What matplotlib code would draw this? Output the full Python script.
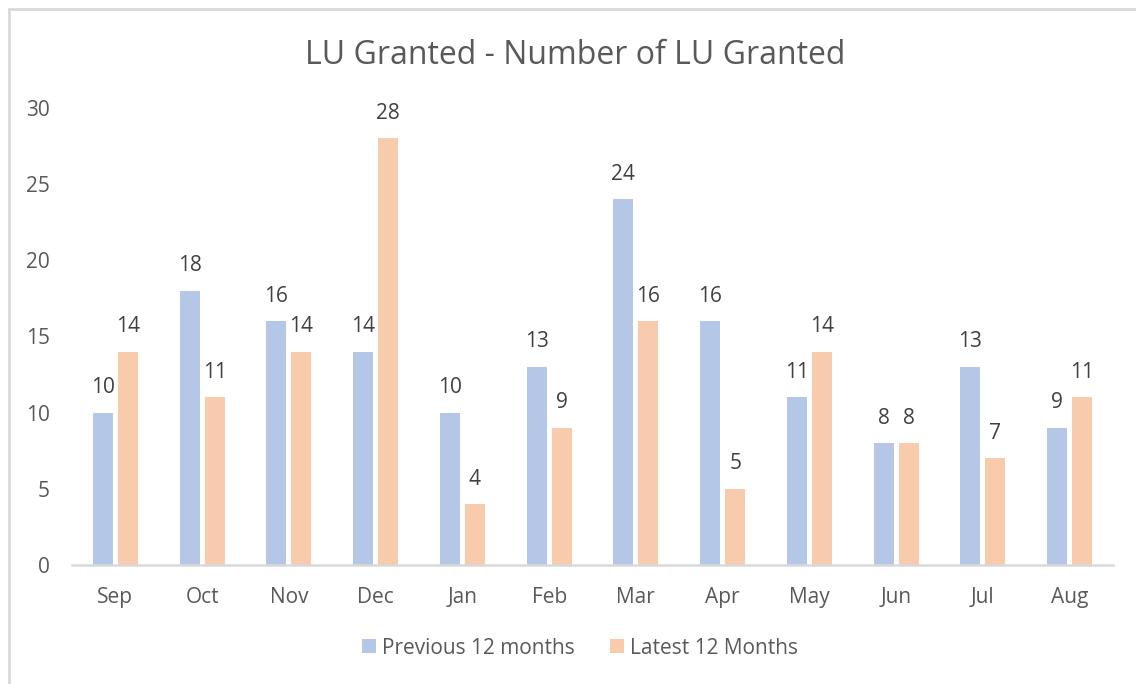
import numpy as np
import matplotlib.pyplot as plt
from matplotlib.lines import Line2D
from matplotlib.patches import Patch

months = ['Sep', 'Oct', 'Nov', 'Dec', 'Jan', 'Feb', 'Mar', 'Apr', 'May', 'Jun', 'Jul', 'Aug']
previous = [10, 18, 16, 14, 10, 13, 24, 16, 11, 8, 13, 9]
latest = [14, 11, 14, 28, 4, 9, 16, 5, 14, 8, 7, 11]
series_names = ['Previous 12 months', 'Latest 12 Months']
colors = ['#B4C7E7', '#F8CBAD']

plt.rcParams['font.family'] = ['Open Sans', 'DejaVu Sans']

fig = plt.figure(figsize=(11.36, 6.84), dpi=100)
ax = fig.add_axes([72 / 1136, 1 - 565 / 684, (1113 - 72) / 1136, (565 - 108) / 684])

x = np.arange(len(months))
w = 0.23
gap = 0.06
b1 = ax.bar(x - (w + gap) / 2, previous, w, color=colors[0], zorder=2)
b2 = ax.bar(x + (w + gap) / 2, latest, w, color=colors[1], zorder=2)

# data labels above each bar
for bars in (b1, b2):
    for rect in bars:
        h = rect.get_height()
        ax.annotate(f'{h:g}', (rect.get_x() + rect.get_width() / 2, h),
                    xytext=(0, 18), textcoords='offset points',
                    ha='center', va='center', fontsize=15, color='#404040',
                    clip_on=False)

ax.set_xlim(-0.5, len(months) - 0.5)
ax.set_ylim(0, 30)
ax.set_yticks(range(0, 31, 5))
ax.set_xticks(x)
ax.set_xticklabels(months)
ax.tick_params(axis='both', length=0, labelsize=15, colors='#595959')
ax.tick_params(axis='x', pad=16)
ax.tick_params(axis='y', pad=16)
for s in ['top', 'right', 'left']:
    ax.spines[s].set_visible(False)
ax.spines['bottom'].set_color('#D9D9D9')
ax.spines['bottom'].set_linewidth(1.8)

fig.text(575 / 1136, 1 - 56 / 684, 'LU Granted - Number of LU Granted',
         ha='center', va='center', fontsize=23, color='#595959')

handles = [Patch(facecolor=c) for c in colors]
fig.legend(handles, series_names, loc='center', bbox_to_anchor=(580 / 1136, 1 - 648 / 684),
           ncol=2, frameon=False, fontsize=15, labelcolor='#595959',
           handlelength=0.67, handleheight=0.67, handletextpad=0.3, columnspacing=1.7)

# chart border (top and left edges visible)
fig.add_artist(Line2D([9 / 1136, 1], [1 - 9 / 684, 1 - 9 / 684], color='#D9D9D9', lw=2))
fig.add_artist(Line2D([9 / 1136, 9 / 1136], [0, 1 - 9 / 684], color='#D9D9D9', lw=2))

fig.savefig('out.png', dpi=100)
